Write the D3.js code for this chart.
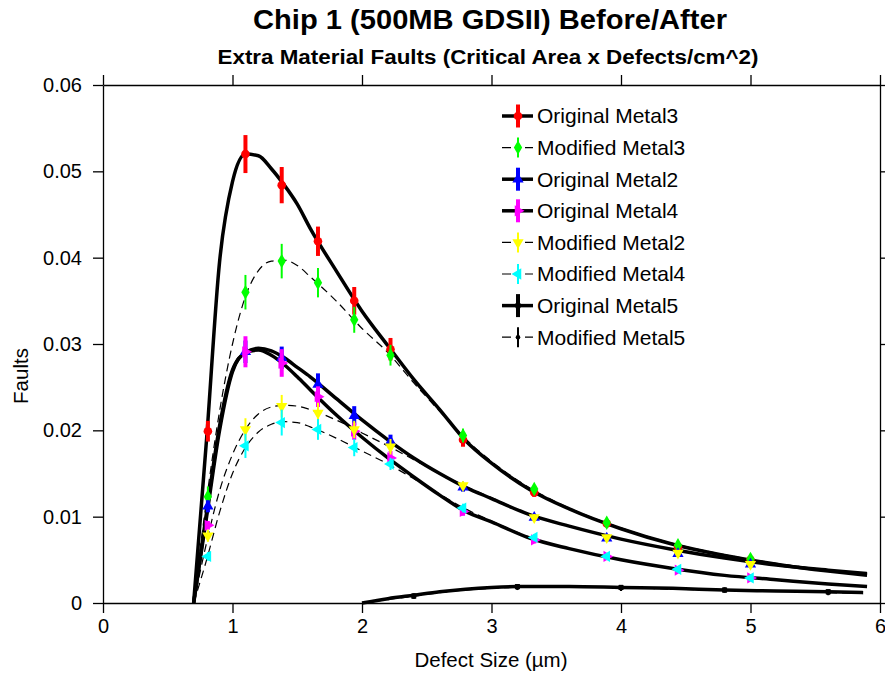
<!DOCTYPE html>
<html lang="en">
  <head>
    <meta charset="UTF-8" />
    <title>Chip 1 (500MB GDSII) Before/After</title>
    <script src="https://d3js.org/d3.v7.min.js"></script>
    <style>
      body {
        margin: 0;
        background: #fff;
        font-family: "Liberation Sans", Arial, sans-serif;
      }
      svg {
        display: block;
      }
      .axis path,
      .axis line {
        stroke: #000;
        stroke-width: 1.3;
      }
      .axis text {
        font-family: "Liberation Sans", Arial, sans-serif;
        font-size: 20px;
        fill: #000;
      }
      .title {
        font-size: 27px;
        font-weight: bold;
      }
      .subtitle {
        font-size: 20px;
        font-weight: bold;
      }
      .axis-label {
        font-size: 20.5px;
      }
      .legend text {
        font-size: 21px;
      }
    </style>
  </head>
  <body>
    <svg width="885" height="673"></svg>
    <script>
      // ---- data ----
      const xTicks = [0, 1, 2, 3, 4, 5, 6];
      const yTicks = [0, 0.01, 0.02, 0.03, 0.04, 0.05, 0.06];

      // measured points (defect size in um)
      const pointX = [0.81, 1.1, 1.38, 1.66, 1.94, 2.22, 2.78, 3.33, 3.89, 4.44, 5.0];
      const origMetal3 = [0.0199, 0.052, 0.0484, 0.0419, 0.035, 0.0294, 0.0189, 0.0128, 0.0092, 0.0065, 0.005];
      const modMetal3 = [0.0123, 0.036, 0.0396, 0.0371, 0.0328, 0.0287, 0.0194, 0.0132, 0.0093, 0.0067, 0.0051];
      const origMetal2 = [0.0112, 0.0291, 0.0284, 0.0253, 0.0217, 0.0187, 0.0134, 0.0099, 0.0075, 0.0057, 0.0045];
      const origMetal4 = [0.009, 0.0291, 0.0278, 0.0239, 0.0199, 0.0168, 0.0106, 0.0073, 0.0054, 0.0038, 0.0029];
      const modMetal2 = [0.0078, 0.0201, 0.0228, 0.022, 0.0201, 0.0181, 0.0136, 0.0099, 0.0076, 0.0058, 0.0045];
      const modMetal4 = [0.0054, 0.0182, 0.0209, 0.0201, 0.018, 0.0161, 0.011, 0.0076, 0.0054, 0.0039, 0.0029];

      // error bar half-lengths
      const origMetal3Err = [0.0012, 0.0022, 0.0021, 0.0017, 0.0016, 0.0013, 0.0008, 0.0005, 0.0004, 0.0003, 0.0003];
      const modMetal3Err = [0.0012, 0.002, 0.002, 0.0017, 0.0015, 0.0012, 0.0008, 0.0005, 0.0004, 0.0003, 0.0003];
      const origMetal2Err = [0.0007, 0.0013, 0.0013, 0.0013, 0.0011, 0.0008, 0.0005, 0.0004, 0.0003, 0.0002, 0.0002];
      const origMetal4Err = [0.0005, 0.0018, 0.0016, 0.0012, 0.001, 0.0008, 0.0005, 0.0004, 0.0003, 0.0002, 0.0002];
      const modMetal2Err = [0.0007, 0.0013, 0.0013, 0.0012, 0.001, 0.0009, 0.0005, 0.0004, 0.0003, 0.0002, 0.0002];
      const modMetal4Err = [0.0005, 0.0014, 0.0015, 0.0012, 0.001, 0.0007, 0.0005, 0.0004, 0.0003, 0.0002, 0.0002];

      const pointX5 = [2.4, 3.2, 4.0, 4.8, 5.6];
      const origMetal5 = [0.0008, 0.0019, 0.0018, 0.0015, 0.0013];
      const modMetal5 = [0.0008, 0.0018, 0.0017, 0.0015, 0.0012];
      const metal5Err = [0.0003, 0.0003, 0.0003, 0.0003, 0.0003];

      // fitted curves
      const curveX = [0.7, 0.8, 0.9, 1.0, 1.1, 1.2, 1.3, 1.4, 1.5, 1.6, 1.8, 2.0, 2.2, 2.4, 2.6, 2.8, 3.0, 3.3, 3.6, 4.0, 4.4, 4.8, 5.2, 5.6, 5.9];
      const fitOrigMetal3 = [0, 0.019, 0.0395, 0.0488, 0.052, 0.0518, 0.0503, 0.0484, 0.0462, 0.0434, 0.0385, 0.0338, 0.0298, 0.0259, 0.0224, 0.0188, 0.0162, 0.0131, 0.0109, 0.0086, 0.0068, 0.0055, 0.0045, 0.0037, 0.0032];
      const fitModMetal3 = [0, 0.012, 0.0222, 0.03, 0.0355, 0.0385, 0.0396, 0.0397, 0.0391, 0.0378, 0.035, 0.0318, 0.029, 0.0255, 0.0222, 0.019, 0.0164, 0.0133, 0.011, 0.0087, 0.0069, 0.0056, 0.0046, 0.0038, 0.0034];
      const fitOrigMetal2 = [0, 0.0105, 0.0205, 0.027, 0.029, 0.0295, 0.0292, 0.0284, 0.0273, 0.0262, 0.0237, 0.0212, 0.0189, 0.0168, 0.015, 0.0134, 0.0121, 0.0102, 0.0089, 0.0074, 0.0062, 0.0052, 0.0044, 0.0038, 0.0034];
      const fitOrigMetal4 = [0, 0.01, 0.02, 0.0268, 0.029, 0.0293, 0.0287, 0.0276, 0.0262, 0.0247, 0.0218, 0.0192, 0.0168, 0.0146, 0.0125, 0.0106, 0.0094, 0.0075, 0.0063, 0.005, 0.004, 0.0032, 0.0027, 0.0022, 0.0019];
      const fitModMetal2 = [0, 0.007, 0.013, 0.0172, 0.0201, 0.0219, 0.0227, 0.0229, 0.0228, 0.0224, 0.0212, 0.0197, 0.0182, 0.0166, 0.015, 0.0135, 0.0122, 0.0102, 0.0089, 0.0074, 0.0062, 0.0052, 0.0044, 0.0038, 0.0034];
      const fitModMetal4 = [0, 0.005, 0.0105, 0.015, 0.018, 0.0198, 0.0207, 0.021, 0.0209, 0.0204, 0.0191, 0.0176, 0.0161, 0.0144, 0.0126, 0.0109, 0.0095, 0.0076, 0.0063, 0.005, 0.004, 0.0032, 0.0027, 0.0022, 0.0019];

      const curveX5 = [2.0, 2.2, 2.4, 2.6, 2.8, 3.0, 3.2, 3.6, 4.0, 4.4, 4.8, 5.2, 5.6, 5.87];
      const fitOrigMetal5 = [0, 0.0005, 0.0009, 0.0013, 0.0016, 0.0018, 0.0019, 0.0019, 0.0018, 0.0017, 0.0015, 0.0014, 0.0013, 0.0012];
      const fitModMetal5 = [0, 0.0004, 0.0008, 0.0012, 0.0015, 0.0017, 0.0018, 0.0018, 0.0018, 0.0016, 0.0015, 0.0014, 0.0012, 0.0011];

      // series in legend (and drawing) order
      const series = [
        { name: "Original Metal3", color: "#ff0000", symbol: "circle", orig: true, xs: pointX, ys: origMetal3, err: origMetal3Err, cx: curveX, cy: fitOrigMetal3 },
        { name: "Modified Metal3", color: "#00ff00", symbol: "diamond", orig: false, xs: pointX, ys: modMetal3, err: modMetal3Err, cx: curveX, cy: fitModMetal3 },
        { name: "Original Metal2", color: "#0000ff", symbol: "up", orig: true, xs: pointX, ys: origMetal2, err: origMetal2Err, cx: curveX, cy: fitOrigMetal2 },
        { name: "Original Metal4", color: "#ff00ff", symbol: "right", orig: true, xs: pointX, ys: origMetal4, err: origMetal4Err, cx: curveX, cy: fitOrigMetal4 },
        { name: "Modified Metal2", color: "#ffff00", symbol: "down", orig: false, xs: pointX, ys: modMetal2, err: modMetal2Err, cx: curveX, cy: fitModMetal2 },
        { name: "Modified Metal4", color: "#00ffff", symbol: "left", orig: false, xs: pointX, ys: modMetal4, err: modMetal4Err, cx: curveX, cy: fitModMetal4 },
        { name: "Original Metal5", color: "#000000", symbol: "square", orig: true, xs: pointX5, ys: origMetal5, err: metal5Err, cx: curveX5, cy: fitOrigMetal5 },
        { name: "Modified Metal5", color: "#000000", symbol: "dot", orig: false, xs: pointX5, ys: modMetal5, err: metal5Err, cx: curveX5, cy: fitModMetal5 },
      ];

      // ---- layout ----
      const svg = d3.select("svg"),
        margin = { top: 85, right: 5, bottom: 70, left: 103 },
        width = +svg.attr("width") - margin.left - margin.right,
        height = +svg.attr("height") - margin.top - margin.bottom;

      const x = d3.scaleLinear().domain([0, 6]).range([margin.left, margin.left + width]);
      const y = d3.scaleLinear().domain([0, 0.06]).range([margin.top + height, margin.top]);

      svg.append("rect").attr("width", 885).attr("height", 673).attr("fill", "#fff");

      // titles
      svg.append("text")
        .attr("class", "title")
        .attr("x", 490)
        .attr("y", 29)
        .attr("text-anchor", "middle")
        .attr("textLength", 474)
        .attr("lengthAdjust", "spacingAndGlyphs")
        .text("Chip 1 (500MB GDSII) Before/After");

      svg.append("text")
        .attr("class", "subtitle")
        .attr("x", 488)
        .attr("y", 64)
        .attr("text-anchor", "middle")
        .attr("textLength", 541)
        .attr("lengthAdjust", "spacingAndGlyphs")
        .text("Extra Material Faults (Critical Area x Defects/cm^2)");

      // axes: ticks outward on all four sides
      const fmtY = (d) => (d === 0 ? "0" : d3.format(".2f")(d));
      svg.append("g")
        .attr("class", "axis")
        .attr("transform", `translate(0,${y(0)})`)
        .call(d3.axisBottom(x).tickValues(xTicks).tickSize(10).tickSizeOuter(0).tickPadding(6).tickFormat(d3.format("d")));
      svg.append("g")
        .attr("class", "axis")
        .attr("transform", `translate(0,${y(0.06)})`)
        .call(d3.axisTop(x).tickValues(xTicks).tickSize(10).tickSizeOuter(0).tickFormat(""));
      svg.append("g")
        .attr("class", "axis")
        .attr("transform", `translate(${x(0)},0)`)
        .call(d3.axisLeft(y).tickValues(yTicks).tickSize(10).tickSizeOuter(0).tickPadding(11).tickFormat(fmtY));
      svg.append("g")
        .attr("class", "axis")
        .attr("transform", `translate(${x(6)},0)`)
        .call(d3.axisRight(y).tickValues(yTicks).tickSize(10).tickSizeOuter(0).tickFormat(""));

      // axis labels
      svg.append("text")
        .attr("class", "axis-label")
        .attr("x", 491)
        .attr("y", 667)
        .attr("text-anchor", "middle")
        .text("Defect Size (\u00b5m)");

      svg.append("text")
        .attr("class", "axis-label")
        .attr("transform", "translate(28,376) rotate(-90)")
        .attr("text-anchor", "middle")
        .text("Faults");

      // marker shapes
      function marker(sel, kind, color, cx, cy) {
        const tri = d3.symbol().type(d3.symbolTriangle).size(55)();
        if (kind === "circle") {
          sel.append("circle").attr("cx", cx).attr("cy", cy).attr("r", 4.3).attr("fill", color);
        } else if (kind === "dot") {
          sel.append("circle").attr("cx", cx).attr("cy", cy).attr("r", 2.3).attr("fill", color);
        } else if (kind === "square") {
          sel.append("rect").attr("x", cx - 2.5).attr("y", cy - 2.5).attr("width", 5).attr("height", 5).attr("fill", color);
        } else if (kind === "diamond") {
          sel.append("path")
            .attr("d", d3.symbol().type(d3.symbolDiamond).size(60)())
            .attr("transform", `translate(${cx},${cy})`)
            .attr("fill", color);
        } else {
          const rot = { up: 0, right: 90, down: 180, left: 270 }[kind];
          sel.append("path")
            .attr("d", tri)
            .attr("transform", `translate(${cx},${cy}) rotate(${rot})`)
            .attr("fill", color);
        }
      }

      const line = d3.line().curve(d3.curveMonotoneX);

      // fitted curves
      const curves = svg.append("g").attr("fill", "none").attr("stroke", "#000");
      series.forEach((s) => {
        curves.append("path")
          .attr("d", line(s.cx.map((cx, i) => [x(cx), y(s.cy[i])])))
          .attr("stroke-width", s.orig ? 3.5 : 1.2)
          .attr("stroke-dasharray", s.orig ? null : "8,5")
          .attr("stroke-linejoin", "round");
      });

      // points with vertical error bars
      series.forEach((s) => {
        const g = svg.append("g");
        s.xs.forEach((px, i) => {
          const cx = x(px),
            cy = y(s.ys[i]);
          g.append("line")
            .attr("x1", cx)
            .attr("x2", cx)
            .attr("y1", y(s.ys[i] + s.err[i]))
            .attr("y2", y(s.ys[i] - s.err[i]))
            .attr("stroke", s.color)
            .attr("stroke-width", s.orig ? 4 : 2);
          marker(g, s.symbol, s.color, cx, cy);
        });
      });

      // legend
      const legend = svg.append("g").attr("class", "legend");
      series.forEach((s, i) => {
        const ly = 116 + i * 31.6;
        legend.append("line")
          .attr("x1", 502)
          .attr("x2", 533)
          .attr("y1", ly)
          .attr("y2", ly)
          .attr("stroke", "#000")
          .attr("stroke-width", s.orig ? 3.5 : 1.2)
          .attr("stroke-dasharray", s.orig ? null : "9,14");
        legend.append("line")
          .attr("x1", 518)
          .attr("x2", 518)
          .attr("y1", ly - (s.orig ? 11.5 : 10))
          .attr("y2", ly + (s.orig ? 11.5 : 10))
          .attr("stroke", s.color)
          .attr("stroke-width", s.orig ? 4 : 2);
        marker(legend, s.symbol, s.color, 518, ly);
        legend.append("text")
          .attr("x", 537)
          .attr("y", ly)
          .attr("dy", "0.35em")
          .text(s.name);
      });
    </script>
  </body>
</html>
